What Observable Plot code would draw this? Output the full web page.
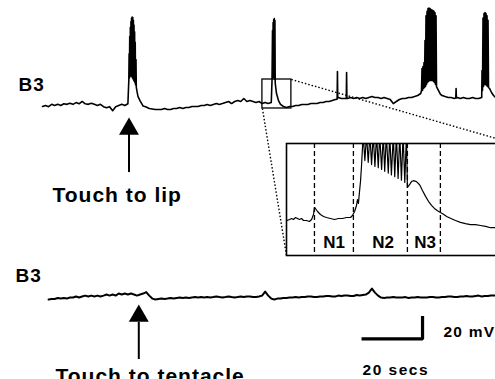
<!DOCTYPE html>
<html><head><meta charset="utf-8">
<script src="https://cdn.jsdelivr.net/npm/d3@7"></script>
<script src="https://cdn.jsdelivr.net/npm/@observablehq/plot@0.6"></script>
<style>
html,body{margin:0;padding:0;background:#fff;overflow:hidden}
#fig{position:relative;width:495px;height:379px;overflow:hidden;background:#fff}
</style></head><body><div id="fig"></div>
<script>
// ---------- DATA (time in s, membrane potential in mV relative to rest) ----------
// Top B3 recording (touch to lip): resting samples every 1 s from t = 0 (null = burst window)
const topRest = [
 -0.9,0,-1,1,0,1,0,1.5,1,2, 1,2.5,1.5,3.5,1.5,1,2,1,0,1, -1,-2,-1,-4.5,-1,0,1,0,1.5,null,
 null,null,4,-0.5,-1.3,-2.6,-3,-3.5,-3.5,-3.5, -2.6,-3.5,-3.5,-2.6,-2.6,-1.7,-2.6,-1.7,-1.7,-0.9,
 -0.9,-0.9,0,0,0.9,0,0.9,1.7,0.9,1.7, 2.6,3.5,1.7,3.5,4.3,3.5,6.1,3.5,4.3,3.5,
 2.6,3.5,1.7,2.6,1.7,2.6,null,null,null,null, -1.7,-0.9,-0.9,0,0,0.9,0.9,0.9,1.7,1.7,
 1.7,2.6,2.6,3.5,3.5,4.3,5.2,7,6.1,6.1, 6.1,7,6.1,7,6.1,7,6.1,7,7.8,7,
 7,6.1,7,6.1,5.2,1.7,3.5,5.2,6.1,6.1, 7,7,7.8,8.7,10.4,null,null,null,null,null,
 null,8.7,7.8,7,7,6.1,7,6.1,7,6.1, 6.1,7,6.1,6.1,7,null,null,null,null
];
const burst1 = [[28.30,22],[28.40,45],[28.50,24],[28.60,60],[28.70,25],[28.80,68],[28.90,26],[29.00,73],[29.10,26],[29.20,76],[29.30,25],[29.40,77],[29.50,24],[29.60,76.5],[29.70,23],[29.80,74],[29.90,22],[30.00,70],[30.10,21],[30.20,64],[30.30,20],[30.40,55],[30.50,18],[30.65,40],[30.75,16],[31.00,12],[31.30,8]];
const burst2 = [[75.25,21.7],[75.41,65.2],[75.51,23.5],[75.61,72.2],[75.70,25.2],[75.80,74.8],[75.90,24.3],[76.00,75.7],[76.10,22.6],[76.20,73.9],[76.30,20.0],[76.39,17.4],[76.72,10.4],[77.38,4.3],[78.03,0.9],[79.02,-0.9]];
const burst3 = [[124.26,13.0],[124.43,32.2],[124.59,13.0],[124.75,33.9],[124.92,14.8],[125.08,37.4],[125.25,15.7],[125.41,56.5],[125.57,16.5],[125.74,78.0],[125.90,18.3],[126.07,82.0],[126.23,20.0],[126.39,84.3],[126.56,20.9],[126.72,84.8],[126.89,21.7],[127.05,84.3],[127.21,21.7],[127.38,83.5],[127.54,21.7],[127.70,83.0],[127.87,21.7],[128.03,82.6],[128.20,20.9],[128.36,82.0],[128.52,20.0],[128.69,80.5],[128.85,18.3],[129.02,78.0],[129.18,16.5],[129.84,13.0],[130.49,9.6]];
const burst4 = [[144.10,30.4],[144.26,13.0],[144.43,76.0],[144.59,16.5],[144.75,80.0],[144.92,18.3],[145.08,80.9],[145.25,18.3],[145.41,80.0],[145.57,17.4],[145.74,78.0],[145.90,16.5],[146.07,74.0],[146.23,15.7],[146.56,14.8],[147.21,11.3],[147.87,8.7],[148.52,7.0]];
const singleSpikes = [[96.6,5.5],[96.7,29.6],[96.8,6.5],[99.6,6.1],[99.7,28.7],[99.8,6.1],[135.5,6.5],[135.6,14.8],[135.7,6.5]];

// Bottom B3 recording (touch to tentacle): samples every 1 s from t = 2
const bottomRest = [
 -1.7,-1.3,-1.3,-0.4,-0.9,-0.4,-0.9,0,0,0.9, 0,0.9,1.7,0.9,1.7,0.9,1.7,0.9,1.7,2.6,
 1.7,2.6,1.7,3.5,2.6,3.5,2.6,3.5,2.6,1.7, 2.6,3.5,4.8,1.7,-0.9,-1.7,-1.3,-0.9,-1.3,-0.9,
 -0.4,-0.9,-0.4,0,-0.4,0,-0.4,0,0.4,0, 0.4,0,0.4,0,0.4,0.9,0.4,0,0.4,0.9,
 0.4,0,0.4,0.9,0.4,0.9,0.9,0.4,0.4,0.9, 1.7,5.2,1.7,-0.9,-1.7,-0.9,-0.9,-0.4,-0.4,0,
 0,0.4,0,0.4,0.4,0.9,0.9,0.4,0.4,0.9, 0.9,1.3,1.3,0.9,0.9,1.7,1.3,1.7,1.7,1.3,
 1.3,2.2,1.7,2.2,2.6,4.3,7.8,4.3,1.7,0, -0.4,0,0,0.4,0,0,0,0.4,-0.4,0,
 0,0.4,0,0,0,0.4,0.4,0,0,0.4, 0.4,0.9,0.9,0.4,0.4,0.9,0.9,1.3,0.9,0.9,
 1.3,1.7,0.9,1.3,1.3,1.7,1.7,1.7
];

// Inset: magnified view of the boxed burst (time in s from box start, mV above box floor)
const insetTrace = [[0.02,7.81],[0.13,8.04],[0.21,8.26],[0.29,8.04],[0.38,8.48],[0.46,8.26],[0.54,8.04],[0.63,8.26],[0.71,7.81],[0.84,7.81],[0.96,7.59],[1.05,8.04],[1.13,9.15],[1.17,10.71],[1.21,10.49],[1.30,9.82],[1.42,9.15],[1.55,8.70],[1.67,8.48],[1.84,8.26],[2.01,8.04],[2.18,8.26],[2.34,8.26],[2.51,8.48],[2.68,8.48],[2.76,8.93],[2.85,9.82],[2.93,11.16],[2.97,12.50],[3.01,11.61],[3.06,14.51],[3.10,16.74],[3.14,20.09],
 [3.21,27],[3.28,21.2],[3.35,27],[3.42,20.8],[3.49,27],[3.56,20.3],[3.63,27],[3.70,19.9],[3.77,27],[3.84,19.6],[3.90,27],[3.98,19.2],[4.05,27],[4.11,18.8],[4.18,27],[4.26,18.4],[4.32,27],[4.39,18.0],[4.47,27],[4.53,17.6],[4.60,27],[4.67,17.2],[4.74,27],[4.81,16.8],[4.88,27],[4.95,16.3],[5.02,27],
 [5.06,15.2],[5.15,15.8],[5.23,16.5],[5.31,16.7],[5.44,16.5],[5.57,15.8],[5.69,14.5],[5.82,13.2],[5.94,12.1],[6.07,11.2],[6.19,10.5],[6.32,10.0],[6.44,9.6],[6.57,9.2],[6.70,8.7],[6.86,8.3],[7.07,7.8],[7.28,7.4],[7.49,7.1],[7.70,6.9],[7.91,6.9],[8.12,6.7],[8.33,6.5],[8.54,6.2],[8.75,6.2],[8.96,6.0]];
const insetDividers = [1.17, 2.80, 5.06, 6.44];
const insetPhases = ["N1", "N2", "N3"];
const insetPhaseCenters = [1.99, 4.04, 5.80];

// Stimuli
const stimulusLabels = ["Touch to lip", "Touch to tentacle"];
const stimulusTimes = [28.36, 31.57];
const traceNames = ["B3", "B3"];
const scaleBarSecs = 20, scaleBarMV = 20;

// ---------- LAYOUT ----------
const W = 495, H = 379;
const xDomain = [-13.77, 148.52];
const yDomain = [-238.26, 91.3];
const rowOffset = [0, -167];
const zoomBox = {t1: 72.1, t2: 81.6, v1: -2.6, v2: 22.6};
const insetFrame = {t1: 80.0, t2: 154.4, v1: -130.4, v2: -33.0};
const insetDomainX = [0, 9.5], insetDomainY = [0, 25];
const FONT = "Liberation Sans, Arial, Helvetica, sans-serif";

function assemble(rest, start, extras) {
  const pts = [];
  rest.forEach((v, i) => { if (v !== null) pts.push([start + i, v]); });
  extras.forEach(a => a.forEach(p => pts.push(p)));
  return pts.sort((a, b) => a[0] - b[0]);
}
const topTrace = assemble(topRest, 0, [burst1, burst2, burst3, burst4, singleSpikes]).map(([t, v]) => ({t, v: v + rowOffset[0]}));
const bottomTrace = assemble(bottomRest, 2, []).map(([t, v]) => ({t, v: v + rowOffset[1]}));

const connectors = [
  {x1: zoomBox.t2, y1: zoomBox.v2, x2: insetFrame.t2, y2: insetFrame.v2},
  {x1: zoomBox.t1, y1: zoomBox.v1, x2: insetFrame.t1, y2: insetFrame.v1}
];
const arrows = [
  {t: stimulusTimes[0], head: rowOffset[0] - 20.4, y1: rowOffset[0] - 25.2, y2: rowOffset[0] - 58.3},
  {t: stimulusTimes[1], head: rowOffset[1] - 16.1, y1: rowOffset[1] - 21.7, y2: rowOffset[1] - 53.9}
];
const sb = {t: 104.6, v: -203.0};
const scaleBar = [{t: sb.t + scaleBarSecs, v: sb.v + scaleBarMV}, {t: sb.t + scaleBarSecs, v: sb.v}, {t: sb.t, v: sb.v}];

const labels = [
  {text: traceNames[0], t: -7.87, v: 18.3, size: 19, ls: 1},
  {text: traceNames[1], t: -8.85, v: -147.8, size: 19, ls: 1},
  {text: stimulusLabels[0], t: 3.28, v: -78.3, size: 21, ls: 1},
  {text: stimulusLabels[1], t: 4.26, v: -235.2, size: 21, ls: 1},
  {text: scaleBarMV + " mV", t: 131.48, v: -197.0, size: 15.5, ls: 1.2},
  {text: scaleBarSecs + " secs", t: 104.92, v: -229.6, size: 15.5, ls: 1.5}
];

const main = Plot.plot({
  width: W, height: H, margin: 0,
  x: {domain: xDomain, axis: null},
  y: {domain: yDomain, axis: null},
  style: {position: "absolute", left: "0px", top: "0px", background: "transparent", maxWidth: "none", overflow: "visible"},
  marks: [
    Plot.line(topTrace, {x: "t", y: "v", stroke: "#000", strokeWidth: 1.6}),
    Plot.line(bottomTrace, {x: "t", y: "v", stroke: "#000", strokeWidth: 2}),
    Plot.rect([zoomBox], {x1: "t1", x2: "t2", y1: "v1", y2: "v2", fill: "none", stroke: "#000", strokeWidth: 1.3}),
    Plot.link(connectors, {x1: "x1", y1: "y1", x2: "x2", y2: "y2", stroke: "#000", strokeWidth: 1.4, strokeDasharray: "1.5,2"}),
    Plot.ruleX(arrows, {x: "t", y1: "y1", y2: "y2", stroke: "#000", strokeWidth: 2}),
    Plot.dot(arrows, {x: "t", y: "head", symbol: "triangle", r: 7.4, fill: "#000", stroke: "none"}),
    Plot.line(scaleBar, {x: "t", y: "v", stroke: "#000", strokeWidth: 3.2, strokeLinejoin: "miter", strokeLinecap: "butt"}),
    Plot.text(labels, {x: "t", y: "v", text: "text", textAnchor: "start", fontSize: d => d.size, fontWeight: "bold", fontFamily: FONT, fill: "#000"})
  ]
});
// letter spacing to match the reference lettering widths
d3.select(main).selectAll("text").each(function() {
  const l = labels.find(d => d.text === this.textContent);
  if (l) { this.setAttribute("letter-spacing", l.ls); this.setAttribute("font-size", l.size); }
});

const xs = main.scale("x"), ys = main.scale("y");
const iLeft = xs.apply(insetFrame.t1), iRight = xs.apply(insetFrame.t2);
const iTop = ys.apply(insetFrame.v2), iBottom = ys.apply(insetFrame.v1);

const inset = Plot.plot({
  width: Math.round(iRight - iLeft), height: Math.round(iBottom - iTop), margin: 0,
  x: {domain: insetDomainX, axis: null},
  y: {domain: insetDomainY, axis: null},
  style: {position: "absolute", left: iLeft + "px", top: iTop + "px", background: "#fff", maxWidth: "none", overflow: "visible"},
  marks: [
    Plot.ruleX(insetDividers, {stroke: "#000", strokeWidth: 1.3, strokeDasharray: "5,3"}),
    Plot.line(insetTrace, {x: d => d[0], y: d => d[1], stroke: "#000", strokeWidth: 1.2, clip: true}),
    Plot.text(insetPhases, {x: (d, i) => insetPhaseCenters[i], y: () => 2.9, text: d => d, fontSize: 17, fontWeight: "bold", fontFamily: FONT, fill: "#000"}),
    Plot.frame({stroke: "#000", strokeWidth: 1.6})
  ]
});

const fig = document.getElementById("fig");
fig.appendChild(main);
fig.appendChild(inset);
</script></body></html>
